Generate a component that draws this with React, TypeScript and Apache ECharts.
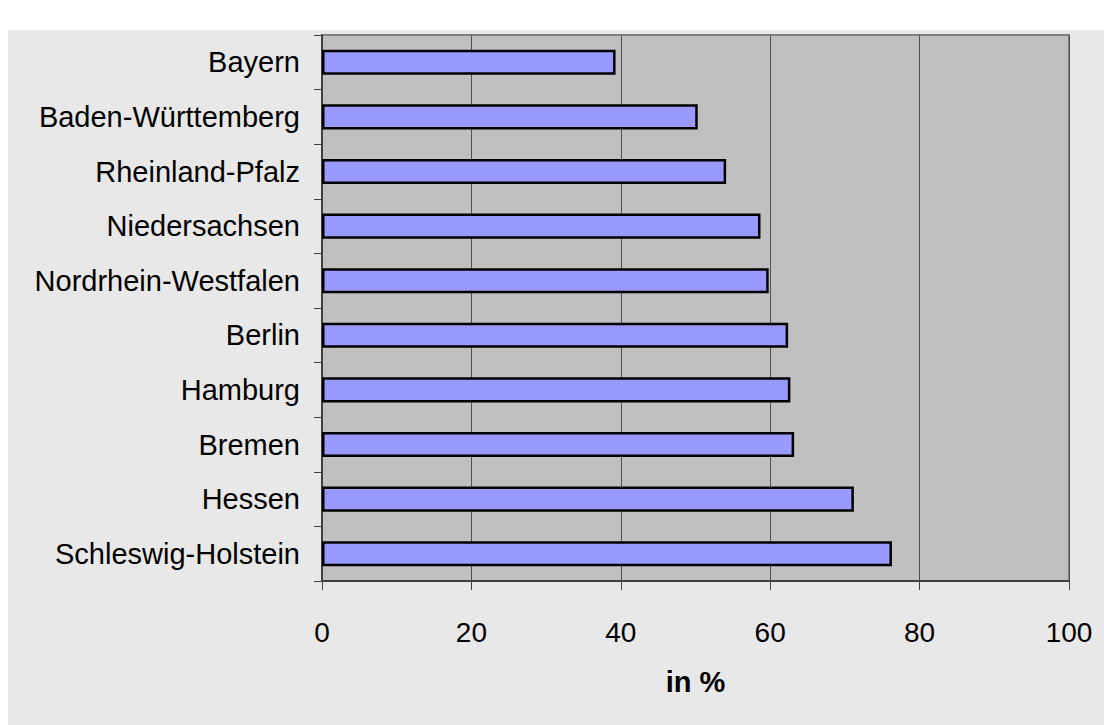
import React, { useEffect, useRef } from "react";
import * as echarts from "echarts";

// Bundesländer, top to bottom
const categories = [
  "Bayern",
  "Baden-Württemberg",
  "Rheinland-Pfalz",
  "Niedersachsen",
  "Nordrhein-Westfalen",
  "Berlin",
  "Hamburg",
  "Bremen",
  "Hessen",
  "Schleswig-Holstein",
];

// share in percent
const values = [39.3, 50.3, 54.1, 58.7, 59.8, 62.4, 62.7, 63.2, 71.2, 76.3];

const axisMin = 0;
const axisMax = 100;
const axisStep = 20;
const axisTitle = "in %";

const FONT = "Liberation Sans, Arial, sans-serif";

export default function App() {
  const ref = useRef<HTMLDivElement>(null);

  useEffect(() => {
    if (!ref.current) return;
    const chart = echarts.init(ref.current, null, { renderer: "svg" });
    chart.setOption({
      animation: false,
      backgroundColor: "#e8e8e8",
      grid: {
        left: 314,
        top: 5,
        right: 35,
        bottom: 144,
        show: true,
        backgroundColor: "#c0c0c0",
        borderColor: "#808080",
        borderWidth: 2,
        containLabel: false,
      },
      xAxis: {
        type: "value",
        min: axisMin,
        max: axisMax,
        interval: axisStep,
        name: axisTitle,
        nameLocation: "middle",
        nameGap: 86,
        nameTextStyle: {
          fontFamily: FONT,
          fontSize: 29,
          fontWeight: "bold",
          color: "#000",
        },
        axisLine: { show: true, lineStyle: { color: "#404040", width: 2 } },
        axisTick: { show: true, length: 9, lineStyle: { color: "#404040", width: 1 } },
        axisLabel: {
          fontFamily: FONT,
          fontSize: 28,
          color: "#000",
          margin: 37,
        },
        splitLine: { show: true, lineStyle: { color: "#505050", width: 1 } },
      },
      yAxis: {
        type: "category",
        data: categories,
        inverse: true,
        axisLine: { show: true, lineStyle: { color: "#404040", width: 2 } },
        axisTick: { show: true, length: 8, lineStyle: { color: "#404040", width: 1 } },
        axisLabel: {
          fontFamily: FONT,
          fontSize: 29,
          color: "#000",
          margin: 22,
        },
        splitLine: { show: false },
      },
      series: [
        {
          type: "bar",
          data: values,
          barCategoryGap: "54%",
          itemStyle: {
            color: "#9999ff",
            borderColor: "#000",
            borderWidth: 2.5,
          },
          silent: true,
        },
      ],
    });
    return () => chart.dispose();
  }, []);

  return (
    <div
      ref={ref}
      style={{ position: "fixed", left: 8, top: 30, width: 1096, height: 695 }}
    />
  );
}
